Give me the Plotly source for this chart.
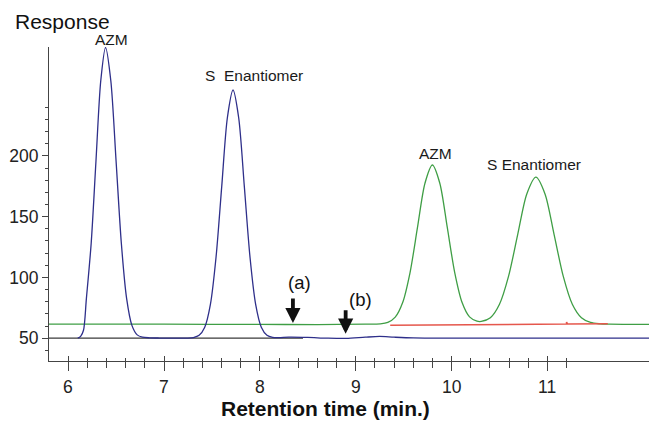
import plotly.graph_objects as go

# ---- data ----
black_x = [5.80, 8.45]
black_y = [50.0, 50.0]

blue_x = [6.10, 6.13, 6.16, 6.19, 6.24, 6.29, 6.34, 6.39, 6.445, 6.50, 6.555, 6.61, 6.665,
          6.72, 6.775, 6.85, 6.95, 7.10, 7.25, 7.307, 7.366, 7.425, 7.484, 7.543, 7.602,
          7.661, 7.72, 7.779, 7.838, 7.897, 7.956, 8.015, 8.074, 8.133, 8.20, 8.30, 8.50,
          8.70, 8.90, 9.10, 9.25, 9.40, 9.60, 10.0, 11.0, 12.06]
blue_y = [50.0, 51.5, 56.5, 82.5, 127.9, 195.6, 261.8, 289.2, 261.8, 195.6, 127.9, 82.5, 60.5,
          52.7, 50.8, 50.3, 50.1, 50.0, 50.0, 50.5, 52.3, 59.0, 77.8, 116.8, 174.7,
          231.4, 254.2, 231.4, 174.7, 116.8, 77.8, 59.0, 52.3, 50.6, 50.4, 50.8, 50.6,
          50.0, 49.8, 50.8, 51.4, 50.8, 50.2, 50.0, 50.0, 50.0]

green_x = [5.80, 7.00, 8.00, 8.60, 9.10, 9.2575, 9.335, 9.4125, 9.49, 9.5675, 9.645, 9.7225,
           9.80, 9.8775, 9.955, 10.0325, 10.11, 10.1875, 10.265, 10.31, 10.405, 10.50, 10.595,
           10.69, 10.785, 10.88, 10.975, 11.07, 11.165, 11.26, 11.355, 11.45, 11.545, 11.65,
           12.06]
green_y = [61.5, 61.5, 61.3, 61.2, 61.5, 61.8, 63.0, 67.3, 79.3, 104.2, 141.3, 177.5,
           192.5, 177.5, 141.3, 104.2, 79.3, 67.5, 64.0, 63.8, 66.8, 77.9, 101.0,
           135.2, 168.7, 182.5, 168.7, 135.2, 101.0, 77.9, 66.8, 62.9, 61.8, 61.5,
           61.3]

red_x = [9.36, 11.19, 11.20, 11.20, 11.21, 11.63]
red_y = [60.6, 61.6, 61.6, 63.2, 61.6, 61.9]

x_ticks = [6, 7, 8, 9, 10, 11]
x_tick_labels = ["6", "7", "8", "9", "10", "11"]
x_minor = [6.2, 6.4, 6.6, 6.8, 7.2, 7.4, 7.6, 7.8, 8.2, 8.4, 8.6, 8.8, 9.2, 9.4, 9.6, 9.8,
           10.2, 10.4, 10.6, 10.8, 11.2]
y_ticks = [50, 100, 150, 200]
y_tick_labels = ["50", "100", "150", "200"]
y_minor = [40, 60, 70, 80, 90, 110, 120, 130, 140, 160, 170, 180, 190, 210, 220, 230, 240]

peak_labels = ["S  Enantiomer", "AZM", "S Enantiomer"]
peak_label_x = [7.938, 9.833, 10.859]
peak_label_y = [266.5, 202.0, 192.9]
top_label = "AZM"
top_label_x = 6.451
top_label_ypaper = 1.0245

arrow_labels = ["(a)", "(b)"]
arrow_x = [8.345, 8.895]
arrow_tip_y = [62.4, 53.6]
arrow_tail_y = [83.8, 74.2]
arrow_label_x = [8.418, 9.045]
arrow_label_y = [96.2, 81.6]

FONT = "Liberation Sans, Arial, Helvetica, sans-serif"

fig = go.Figure()
fig.add_trace(go.Scatter(x=black_x, y=black_y, mode="lines",
                         line=dict(color="#3a3a3a", width=1.1), hoverinfo="skip"))
fig.add_trace(go.Scatter(x=green_x, y=green_y, mode="lines",
                         line=dict(color="#3f9e45", width=1.3, shape="spline", smoothing=0.8),
                         hoverinfo="skip"))
fig.add_trace(go.Scatter(x=red_x, y=red_y, mode="lines",
                         line=dict(color="#e5574c", width=1.6), hoverinfo="skip"))
fig.add_trace(go.Scatter(x=blue_x, y=blue_y, mode="lines",
                         line=dict(color="#2e2f8a", width=1.3, shape="spline", smoothing=0.8),
                         hoverinfo="skip"))
# invisible trace to anchor the overlay axis (inner halves of the x ticks)
fig.add_trace(go.Scatter(x=[x_ticks[0]], y=[y_ticks[0]], xaxis="x2", mode="markers",
                         marker=dict(opacity=0), hoverinfo="skip"))

annotations = []
# x tick labels placed a little further below the axis than plotly's default
for v, t in zip(x_ticks, x_tick_labels):
    annotations.append(dict(x=v, y=-0.0818, xref="x", yref="paper", text=t, showarrow=False,
                            xanchor="center", yanchor="middle",
                            font=dict(family=FONT, size=17.5, color="#222")))
annotations.append(dict(x=top_label_x, y=top_label_ypaper, xref="x", yref="paper",
                        text=top_label, showarrow=False, xanchor="center", yanchor="middle",
                        font=dict(family=FONT, size=15.5, color="#1a1a1a")))
for t, x, y in zip(peak_labels, peak_label_x, peak_label_y):
    annotations.append(dict(x=x, y=y, xref="x", yref="y", text=t, showarrow=False,
                            xanchor="center", yanchor="middle",
                            font=dict(family=FONT, size=15.5, color="#1a1a1a")))
for t, x, y in zip(arrow_labels, arrow_label_x, arrow_label_y):
    annotations.append(dict(x=x, y=y, xref="x", yref="y", text=t, showarrow=False,
                            xanchor="center", yanchor="middle",
                            font=dict(family=FONT, size=18.5, color="#111")))
for x, yt, ya in zip(arrow_x, arrow_tip_y, arrow_tail_y):
    annotations.append(dict(x=x, y=yt, ax=x, ay=ya, xref="x", yref="y", axref="x", ayref="y",
                            text="", showarrow=True, arrowhead=2, arrowsize=0.8,
                            arrowwidth=3.8, arrowcolor="#111", standoff=0))
annotations.append(dict(x=0.0225, y=1.0806, xref="paper", yref="paper", text="Response",
                        showarrow=False, xanchor="center", yanchor="middle",
                        font=dict(family=FONT, size=21, color="#111")))
annotations.append(dict(x=0.461, y=-0.1497, xref="paper", yref="paper",
                        text="<b>Retention time (min.)</b>", showarrow=False,
                        xanchor="center", yanchor="middle",
                        font=dict(family=FONT, size=21, color="#111")))

axis_color = "#444"
fig.update_layout(
    width=649, height=431,
    margin=dict(l=49, r=0, t=47, b=70),
    paper_bgcolor="white", plot_bgcolor="white",
    showlegend=False,
    annotations=annotations,
    xaxis=dict(range=[5.80, 12.06], tickmode="array", tickvals=x_ticks,
               showticklabels=False,
               ticks="outside", ticklen=9, tickwidth=1, tickcolor=axis_color,
               minor=dict(tickmode="array", tickvals=x_minor, ticks="outside",
                          ticklen=6, tickwidth=1, tickcolor=axis_color, showgrid=False),
               showline=True, linecolor=axis_color, linewidth=1,
               showgrid=False, zeroline=False),
    xaxis2=dict(range=[5.80, 12.06], overlaying="x", anchor="y", side="bottom",
                tickmode="array", tickvals=x_ticks, ticks="inside", ticklen=5,
                tickwidth=1, tickcolor=axis_color,
                minor=dict(tickmode="array", tickvals=x_minor, ticks="inside",
                           ticklen=3, tickwidth=1, tickcolor=axis_color, showgrid=False),
                showticklabels=False, showline=False, showgrid=False, zeroline=False),
    yaxis=dict(range=[31.2, 289.6], tickmode="array", tickvals=y_ticks,
               ticktext=y_tick_labels,
               ticks="outside", ticklen=6, tickwidth=1, tickcolor=axis_color,
               minor=dict(tickmode="array", tickvals=y_minor, ticks="outside",
                          ticklen=3, tickwidth=1, tickcolor=axis_color, showgrid=False),
               showline=True, linecolor=axis_color, linewidth=1,
               showgrid=False, zeroline=False,
               tickfont=dict(family=FONT, size=17.5, color="#222")),
)

fig.write_html("out.html", config={"displayModeBar": False},
               post_script="document.body.style.margin='0';")
